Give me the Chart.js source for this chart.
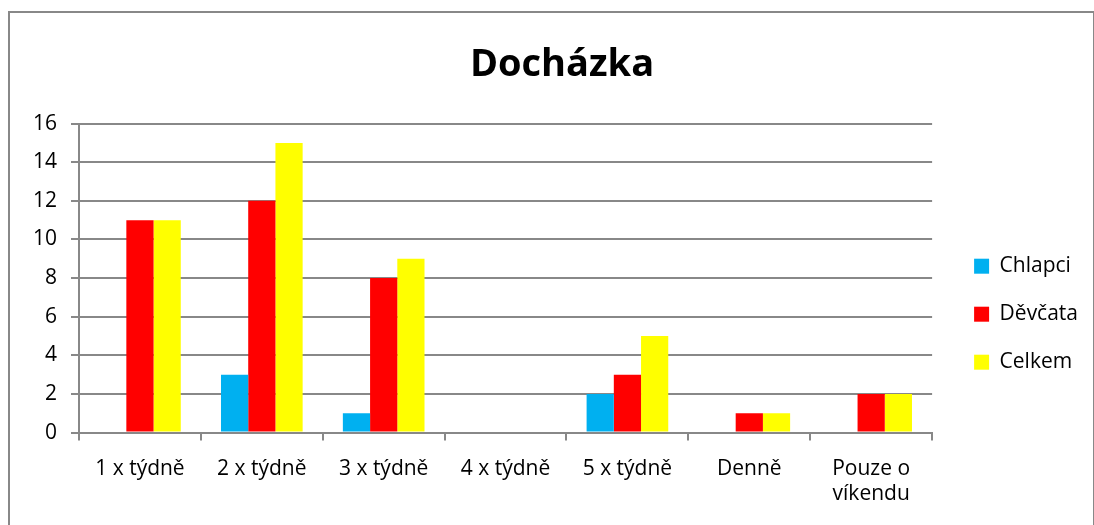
<!DOCTYPE html>
<html>
<head>
<meta charset="utf-8">
<script src="https://cdn.jsdelivr.net/npm/chart.js@4"></script>
<style>
  html, body { margin: 0; padding: 0; background: #fff; overflow: hidden; }
  #box {
    position: absolute; left: 8px; top: 11px; width: 1083px; height: 520px;
    border: 2px solid #888; border-bottom: none; background: #fff;
  }
  #box canvas { display: block; }
</style>
</head>
<body>
<div id="box"><canvas id="chartCanvas" width="1083" height="520"></canvas></div>
<script>
// Data
const categories = ['1 x týdně', '2 x týdně', '3 x týdně', '4 x týdně', '5 x týdně', 'Denně', ['Pouze o', 'víkendu']];
const chlapci = [0, 3, 1, 0, 2, 0, 0];
const devcata = [11, 12, 8, 0, 3, 1, 2];
const celkem = [11, 15, 9, 0, 5, 1, 2];
const yTicks = [0, 2, 4, 6, 8, 10, 12, 14, 16];

const font = "'Open Sans', 'Liberation Sans', sans-serif";
const gray = '#888888';

// posune legendu kousek doprava a nadpis nad střed grafu
const blockShift = {
    id: 'blockShift',
    afterLayout(chart) {
        if (chart.legend) {
            chart.legend.left += 15;
            chart.legend.right += 15;
        }
        if (chart.titleBlock) {
            chart.titleBlock.left += 16;
            chart.titleBlock.right += 16;
        }
    }
};

const ctx = document.getElementById('chartCanvas').getContext('2d');
const myChart = new Chart(ctx, {
    type: 'bar',
    data: {
        labels: categories,
        datasets: [
            { label: 'Chlapci', data: chlapci, backgroundColor: '#00B0F0' },
            { label: 'Děvčata', data: devcata, backgroundColor: '#FF0000' },
            { label: 'Celkem', data: celkem, backgroundColor: '#FFFF00' }
        ]
    },
    plugins: [blockShift],
    options: {
        responsive: false,
        animation: false,
        categoryPercentage: 0.67,
        barPercentage: 1.0,
        layout: { padding: { left: 9, right: 20, top: 0, bottom: 10 } },
        plugins: {
            title: {
                display: true,
                text: 'Docházka',
                color: '#000',
                font: { family: font, size: 38, weight: 'bold' },
                padding: { top: 29, bottom: 36 }
            },
            legend: {
                position: 'right',
                title: { display: true, text: ' ', padding: { top: 78 } },
                labels: {
                    color: '#000',
                    font: { family: font, size: 21 },
                    boxWidth: 15,
                    boxHeight: 15,
                    padding: 27
                }
            },
            tooltip: { enabled: false }
        },
        scales: {
            x: {
                grid: {
                    display: true,
                    drawOnChartArea: false,
                    offset: true,
                    color: gray,
                    tickLength: 8,
                    lineWidth: 2
                },
                border: { color: gray, width: 2 },
                ticks: {
                    color: '#000',
                    font: { family: font, size: 21 },
                    maxRotation: 0,
                    autoSkip: false,
                    padding: 16
                }
            },
            y: {
                min: 0,
                max: 16,
                afterBuildTicks: (axis) => { axis.ticks = yTicks.map(v => ({ value: v })); },
                grid: { color: gray, tickLength: 8, lineWidth: 2 },
                border: { color: gray, width: 2 },
                ticks: {
                    color: '#000',
                    font: { family: font, size: 21 },
                    padding: 14
                }
            }
        }
    }
});
</script>
</body>
</html>
